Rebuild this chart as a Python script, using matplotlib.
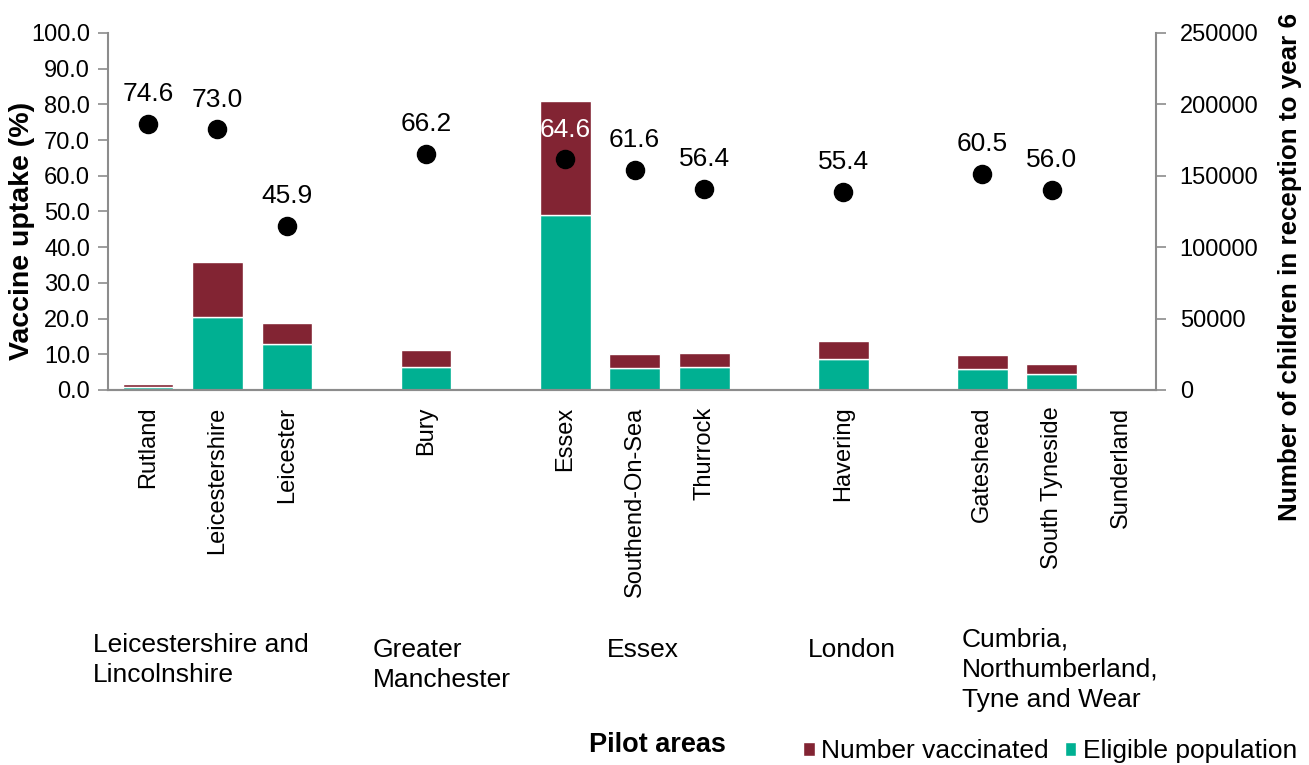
import numpy as np
import matplotlib.pyplot as plt

plt.rcParams['font.family'] = ['Liberation Sans', 'DejaVu Sans']

# pilot areas (blank slots separate the groups)
areas = ["Rutland", "Leicestershire", "Leicester", "", "Bury", "",
         "Essex", "Southend-On-Sea", "Thurrock", "", "Havering", "",
         "Gateshead", "South Tyneside", "Sunderland"]
eligible = [1900, 51300, 32000, 0, 16300, 0, 122500, 15200, 16300, 0,
            21500, 0, 14900, 11400, 0]
vaccinated = [2300, 38400, 14700, 0, 11700, 0, 79900, 9800, 9800, 0,
              12800, 0, 9600, 6800, 0]
uptake = [74.6, 73.0, 45.9, np.nan, 66.2, np.nan, 64.6, 61.6, 56.4, np.nan,
          55.4, np.nan, 60.5, 56.0, np.nan]
groups = ["Leicestershire and\nLincolnshire", "Greater\nManchester", "Essex",
          "London", "Cumbria,\nNorthumberland,\nTyne and Wear"]
group_x = [93, 373, 607, 808, 962]
group_top = [633, 638, 638, 638, 627]

red = "#822433"
teal = "#00B092"
grey = "#8c8c8c"

fig = plt.figure(figsize=(13.09, 7.65), dpi=100)
ax = fig.add_axes([0.0825, 0.4902, 0.8007, 0.4667])
ax2 = ax.twinx()

x = np.arange(len(areas))
ax2.bar(x, eligible, width=0.73, color=teal, edgecolor="white", linewidth=1,
        label="Eligible population")
ax2.bar(x, vaccinated, width=0.73, bottom=eligible, color=red,
        edgecolor="white", linewidth=1, label="Number vaccinated")
ax2.set_ylim(0, 250000)
ax2.set_yticks(np.arange(0, 250001, 50000))

ax.set_zorder(ax2.get_zorder() + 1)
ax.patch.set_visible(False)
ax.scatter(x, uptake, s=170, color="black", zorder=5)
for xi, u in zip(x, uptake):
    if np.isnan(u):
        continue
    c = "white" if areas[xi] == "Essex" else "black"
    ax.text(xi, u + 6.4, f"{u:.1f}", ha="center", va="baseline", fontsize=19,
            color=c)
ax.set_ylim(0, 100)
ax.set_yticks(np.arange(0, 101, 10))
ax.set_yticklabels([f"{v:.1f}" for v in np.arange(0, 101, 10)])
ax.set_xlim(-0.575, len(areas) - 0.5)
ax.set_xticks(x)
ax.set_xticklabels(areas, rotation=90, fontsize=17)
ax.tick_params(axis="x", length=0, pad=12)

for a in (ax, ax2):
    a.spines["top"].set_visible(False)
    for s in ("left", "right", "bottom"):
        a.spines[s].set_color(grey)
        a.spines[s].set_linewidth(1.5)
    a.tick_params(axis="y", colors=grey, labelcolor="black", labelsize=17,
                  length=7, width=1.2)
ax.spines["right"].set_visible(False)
ax2.spines["left"].set_visible(False)
ax.tick_params(axis="y", pad=6)
ax2.tick_params(axis="y", pad=10)

fig.text(22 / 1309, 1 - 231 / 765, "Vaccine uptake (%)", rotation=90,
         ha="center", va="center", fontsize=20.5, fontweight="bold")
fig.text(1290 / 1309, 1 - 267 / 765, "Number of children in reception to year 6",
         rotation=90, ha="center", va="center", fontsize=18.7,
         fontweight="bold")

for gx, gy, g in zip(group_x, group_top, groups):
    fig.text(gx / 1309, 1 - gy / 765, g, ha="left", va="top", fontsize=19,
             linespacing=1.33)

fig.text(657 / 1309, 1 - 745 / 765, "Pilot areas", ha="center",
         va="center", fontsize=19.5, fontweight="bold")

h, l = ax2.get_legend_handles_labels()
fig.legend(h[::-1], l[::-1], loc="center", bbox_to_anchor=(1050 / 1309, 1 - 751 / 765),
           ncol=2, frameon=False, fontsize=19, handlelength=0.45,
           handleheight=0.45, handletextpad=0.25, columnspacing=0.6,
           borderaxespad=0, borderpad=0)

fig.savefig("out.png", dpi=100)
